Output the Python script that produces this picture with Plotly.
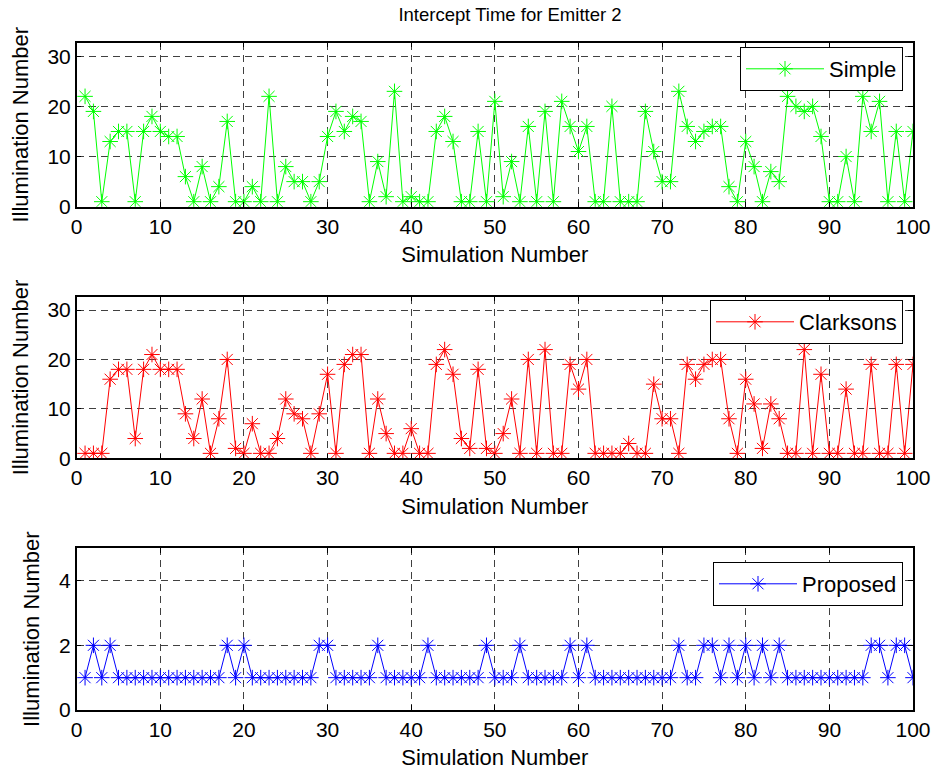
import plotly.graph_objects as go

sim = list(range(1, 101))

simple = [22, 19, 1, 13, 15, 15, 1, 15, 18, 15,
          14, 14, 6, 1, 8, 1, 4, 17, 1, 1,
          4, 1, 22, 1, 8, 5, 5, 1, 5, 14,
          19, 15, 18, 17, 1, 9, 2, 23, 1, 2,
          1, 1, 15, 18, 13, 1, 1, 15, 1, 21,
          2, 9, 1, 16, 1, 19, 1, 21, 16, 11,
          16, 1, 1, 20, 1, 1, 1, 19, 11, 5,
          5, 23, 16, 13, 15, 16, 16, 4, 1, 13,
          8, 1, 7, 5, 22, 20, 19, 20, 14, 1,
          1, 10, 1, 22, 15, 21, 1, 15, 1, 15]

clarksons = [1, 1, 1, 16, 18, 18, 4, 18, 21, 18,
             18, 18, 9, 4, 12, 1, 8, 20, 2, 1,
             7, 1, 1, 4, 12, 9, 8, 1, 9, 17,
             1, 19, 21, 21, 1, 12, 5, 1, 1, 6,
             1, 1, 19, 22, 17, 4, 2, 18, 2, 1,
             5, 12, 1, 20, 1, 22, 1, 1, 19, 14,
             20, 1, 1, 1, 1, 3, 1, 1, 15, 8,
             8, 1, 19, 16, 19, 20, 20, 8, 1, 16,
             11, 2, 11, 8, 1, 1, 22, 1, 17, 1,
             1, 14, 1, 1, 19, 1, 1, 19, 1, 19]

proposed = [1, 2, 1, 2, 1, 1, 1, 1, 1, 1,
            1, 1, 1, 1, 1, 1, 1, 2, 1, 2,
            1, 1, 1, 1, 1, 1, 1, 1, 2, 2,
            1, 1, 1, 1, 1, 2, 1, 1, 1, 1,
            1, 2, 1, 1, 1, 1, 1, 1, 2, 1,
            1, 1, 2, 1, 1, 1, 1, 1, 2, 1,
            2, 1, 1, 1, 1, 1, 1, 1, 1, 1,
            1, 2, 1, 1, 2, 2, 1, 2, 1, 2,
            1, 2, 1, 2, 1, 1, 1, 1, 1, 1,
            1, 1, 1, 1, 2, 2, 1, 2, 2, 1]

series = [("Simple", simple, "#00FF00"),
          ("Clarksons", clarksons, "#FF0000"),
          ("Proposed", proposed, "#0000FF")]

W, H = 938, 773
FONT = "Liberation Sans, Arial, Helvetica, sans-serif"

x0, x1 = 76.7 / W, 913 / W
ydoms = [(1 - 206.7 / H, 1 - 42.7 / H),
         (1 - 458.3 / H, 1 - 296.7 / H),
         (1 - 710 / H, 1 - 548.3 / H)]
yranges = [[0, 32.7], [0, 32.7], [0, 5]]
yticks = [[0, 10, 20, 30], [0, 10, 20, 30], [0, 2, 4]]
legend_tops = [1 - 47 / H, 1 - 300 / H, 1 - 562 / H]

fig = go.Figure()
layout = dict(
    width=W, height=H,
    margin=dict(l=0, r=0, t=0, b=0),
    paper_bgcolor="white", plot_bgcolor="white",
    showlegend=True,
    font=dict(family=FONT, size=21, color="black"),
    title=dict(text="Intercept Time for Emitter 2", x=510 / W, xanchor="center",
               y=1 - 15 / H, yanchor="middle", font=dict(size=18.5, family=FONT)),
)

for i, (name, vals, col) in enumerate(series):
    sfx = "" if i == 0 else str(i + 1)
    fig.add_trace(go.Scatter(
        x=sim, y=vals, name=name, mode="lines+markers",
        line=dict(color=col, width=1),
        marker=dict(symbol="asterisk-open", size=13, color=col,
                    line=dict(color=col, width=1)),
        xaxis="x" + sfx, yaxis="y" + sfx,
        legend="legend" + sfx, showlegend=True,
    ))
    axcommon = dict(showline=True, linecolor="black", linewidth=1.5, mirror="ticks",
                    ticks="inside", ticklen=5, tickcolor="black",
                    showgrid=True, gridcolor="rgba(0,0,0,0.75)", gridwidth=1,
                    griddash="7px,5px", zeroline=False, automargin=False,
                    tickfont=dict(size=21, family=FONT))
    layout["xaxis" + sfx] = dict(
        axcommon, domain=[x0, x1], range=[0, 100], tickvals=list(range(0, 101, 10)),
        anchor="y" + sfx,
        title=dict(text="Simulation Number", standoff=10, font=dict(size=22)),
    )
    layout["yaxis" + sfx] = dict(
        axcommon, domain=list(ydoms[i]), range=yranges[i], tickvals=yticks[i],
        anchor="x" + sfx,
        title=dict(text="Illumination Number", standoff=13, font=dict(size=22)),
    )
    layout["legend" + sfx] = dict(
        x=903 / W, xanchor="right", y=legend_tops[i], yanchor="top",
        bgcolor="white", bordercolor="black", borderwidth=1,
        font=dict(size=22, family=FONT), itemwidth=78,
        tracegroupgap=0, visible=True,
    )

fig.update_layout(**layout)
fig.write_html("out.html")
